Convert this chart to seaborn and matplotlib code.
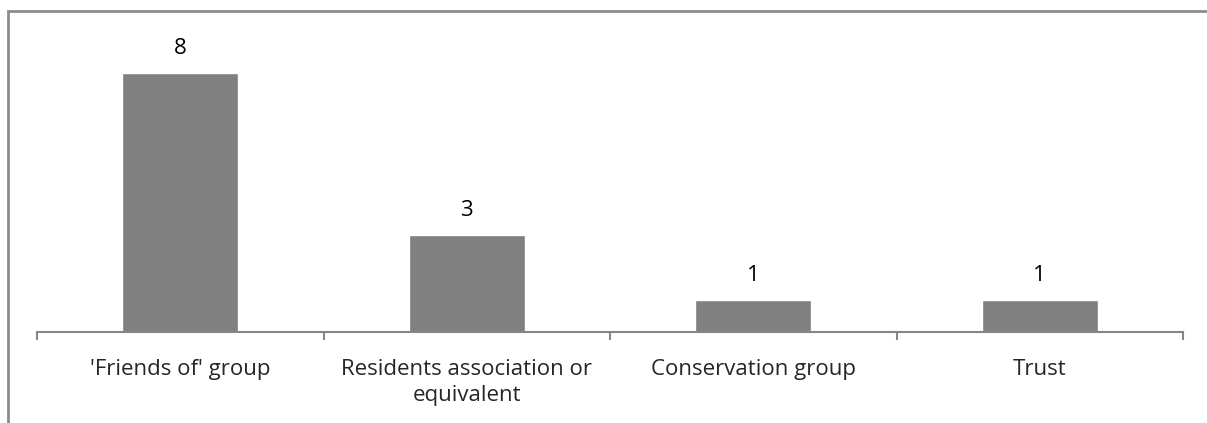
#!/usr/bin/env python3
"""
Bar chart of group types (counts per category).
"""
import matplotlib
matplotlib.use('Agg')
import matplotlib.pyplot as plt
import seaborn as sns
import pandas as pd
from matplotlib.patches import Rectangle

# Data
categories = ["'Friends of' group", "Residents association or\nequivalent",
              "Conservation group", "Trust"]
counts = [8, 3, 1, 1]

BAR_COLOR = '#808080'
AXIS_COLOR = '#868686'
FONT_SIZE = 16


def main():
    sns.set_style('white')
    plt.rcParams['font.family'] = ['Open Sans', 'DejaVu Sans']

    df = pd.DataFrame({'category': categories, 'count': counts})

    fig = plt.figure(figsize=(12.07, 4.23), dpi=100)
    ax = fig.add_axes([37 / 1207, 91 / 423, (1183 - 37) / 1207, 291.6 / 423])

    sns.barplot(data=df, x='category', y='count', color=BAR_COLOR,
                width=0.405, saturation=1, ax=ax)

    ax.set_xlim(-0.5, len(categories) - 0.5)
    ax.set_ylim(0, 9)

    # value labels above bars
    for i, v in enumerate(counts):
        ax.annotate(str(v), (i, v), xytext=(0, 10), textcoords='offset points',
                    ha='center', va='bottom', fontsize=FONT_SIZE, color='black')

    # axis styling
    for side in ['top', 'right', 'left']:
        ax.spines[side].set_visible(False)
    ax.spines['bottom'].set_color(AXIS_COLOR)
    ax.spines['bottom'].set_linewidth(1.5)
    ax.set_yticks([])
    ax.set_xlabel('')
    ax.set_ylabel('')
    ax.set_xticks(range(len(categories)))
    ax.set_xticklabels(categories, fontsize=FONT_SIZE, linespacing=1.3)
    ax.tick_params(axis='x', which='major', length=0, pad=19.5)
    ax.set_xticks([i - 0.5 for i in range(len(categories) + 1)], minor=True)
    ax.tick_params(axis='x', which='minor', bottom=True, length=6, width=1.5,
                   color=AXIS_COLOR, direction='out')

    # chart border (partially cropped in the original)
    fig.patches.append(Rectangle((8 / 1207, -0.1), 1.2, (423 - 11) / 423 + 0.1,
                                 transform=fig.transFigure, fill=False,
                                 edgecolor='#8c8c8c', linewidth=2))

    fig.savefig('out.png', dpi=100)
    plt.close(fig)


if __name__ == "__main__":
    main()
